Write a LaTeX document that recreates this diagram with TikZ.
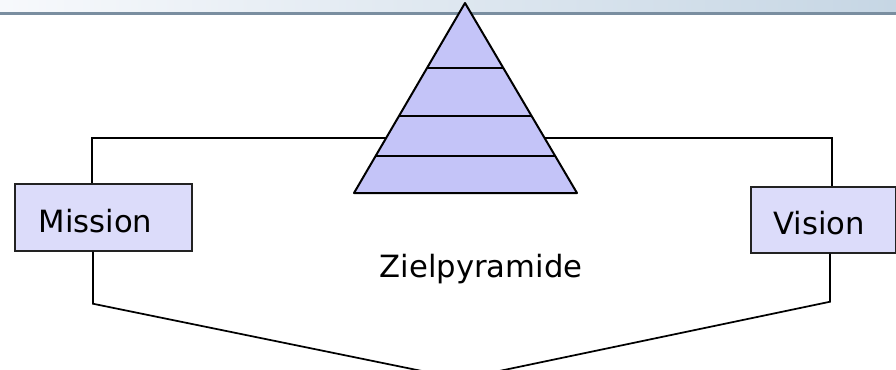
\documentclass[tikz,border=0pt]{standalone}
\usepackage{fontspec}
\usetikzlibrary{calc}
\newfontfamily\dejavu{DejaVu Sans}
\definecolor{kopfl}{HTML}{F7F9FC}
\definecolor{kopfr}{HTML}{C6D6E4}
\definecolor{kopflinie}{HTML}{7A8EA0}
\definecolor{pyra}{HTML}{C4C4F8}
\definecolor{kasten}{HTML}{DCDCFA}
\definecolor{rand}{HTML}{222222}
\tikzset{
  box/.style={draw=rand,fill=kasten,line width=1.3pt,inner sep=0pt,
    text height=22pt,text depth=0pt,
    font=\dejavu\fontsize{23}{28}\selectfont},
  verb/.style={black,line width=1.3pt},
  pyr/.style={fill=pyra,draw=black,line width=1.5pt,line join=round},
  stufe/.style={black,line width=1.5pt},
  beschr/.style={font=\dejavu\fontsize{23}{28}\selectfont,inner sep=0pt},
}
\begin{document}
\begin{tikzpicture}[x=0.75pt,y=-0.75pt]
  \useasboundingbox (0,0) rectangle (896,369);
  \clip (0,0) rectangle (896,369);
  % Kopfleiste
  \shade[left color=kopfl,right color=kopfr] (0,0) rectangle (896,12.5);
  \draw[kopflinie,line width=2.2pt] (0,13.5)--(896,13.5);
  % Kaesten
  \node[box,anchor=north west,minimum width=132.75pt,minimum height=50.25pt]
    (mission) at (14,183) {\hspace*{-12pt}Mission};
  \node[box,anchor=north west,minimum width=108.75pt,minimum height=49.5pt]
    (vision) at (750,186) {\hspace*{-6pt}Vision};
  \node[beschr,anchor=base] (ziel) at (481,277) {Zielpyramide};
  % Verbindungen
  \coordinate (ol) at ($(mission.north west)+(78,-45)$);
  \coordinate (or) at ($(vision.north west)+(82,-48)$);
  \coordinate (ul) at ($(mission.south west)+(79,52)$);
  \coordinate (ur) at ($(vision.south west)+(80,48)$);
  \coordinate (spitze) at (461,379);
  \draw[verb] (mission.north west -| ol)--(ol)--(or)--(vision.north west -| or);
  \draw[verb] (mission.south west -| ul)--(ul)--(spitze)--(ur)--(vision.south west -| ur);
  % Pyramide
  \coordinate (top) at (465,3);
  \coordinate (bl) at (354,193);
  \coordinate (br) at (577,193);
  \draw[pyr] (top)--(bl)--(br)--cycle;
  \foreach \t in {0.342,0.595,0.805}{
    \draw[stufe] ($(top)!\t!(bl)$)--($(top)!\t!(br)$);
  }
\end{tikzpicture}
\end{document}
